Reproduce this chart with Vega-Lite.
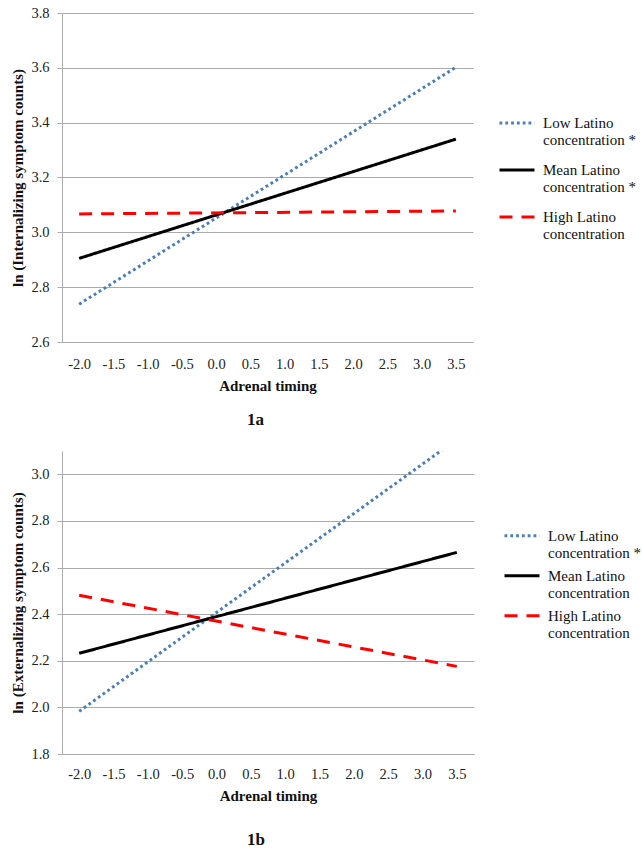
{
  "$schema": "https://vega.github.io/schema/vega-lite/v6.json",
  "background": "white",
  "padding": {"left": 10, "top": 5, "right": 0, "bottom": 0},
  "spacing": 23,
  "config": {
    "view": {"stroke": null},
    "font": "Liberation Serif, DejaVu Serif, serif",
    "axis": {"labelFont": "Liberation Serif, DejaVu Serif, serif", "titleFont": "Liberation Serif, DejaVu Serif, serif", "labelColor": "#222222", "titleColor": "#111111", "titleFontWeight": "bold", "titleFontSize": 15, "labelFontSize": 14.5},
    "legend": {"labelFont": "Liberation Serif, DejaVu Serif, serif", "labelFontSize": 15, "labelColor": "#111111"}
  },
  "resolve": {"scale": {"color": "independent", "strokeDash": "independent"}, "legend": {"color": "independent", "strokeDash": "independent"}},
  "vconcat": [
    {
      "width": 411,
      "height": 329,
      "title": {"text": "1a", "orient": "bottom", "anchor": "middle", "fontSize": 17, "fontWeight": "bold", "font": "Liberation Serif, DejaVu Serif, serif", "offset": 19, "dx": -12, "color": "#111111"},
      "data": {"values": [
        {"series": "Low Latino|concentration *", "timing": -2.0, "value": 2.738},
        {"series": "Low Latino|concentration *", "timing": 3.5, "value": 3.602},
        {"series": "Mean Latino|concentration *", "timing": -2.0, "value": 2.905},
        {"series": "Mean Latino|concentration *", "timing": 3.5, "value": 3.340},
        {"series": "High Latino|concentration", "timing": -2.0, "value": 3.067},
        {"series": "High Latino|concentration", "timing": 3.5, "value": 3.078}
      ]},
      "mark": {"type": "line", "strokeWidth": 3, "clip": true},
      "encoding": {
        "x": {"field": "timing", "type": "quantitative", "scale": {"domain": [-2.25, 3.75], "nice": false, "zero": false},
          "axis": {"title": "Adrenal timing", "values": [-2, -1.5, -1, -0.5, 0, 0.5, 1, 1.5, 2, 2.5, 3, 3.5], "labelExpr": "replace(format(datum.value, '.1f'), '\u2212', '-')", "grid": false, "ticks": false, "tickSize": 0, "domainColor": "#ABABAB", "labelPadding": 15, "titlePadding": 7.5}},
        "y": {"field": "value", "type": "quantitative", "scale": {"domain": [2.6, 3.8], "nice": false, "zero": false},
          "axis": {"title": "ln (Internalizing symptom counts)", "values": [2.6, 2.8, 3.0, 3.2, 3.4, 3.6, 3.8], "format": ".1f", "gridColor": "#ABABAB", "domainColor": "#ABABAB", "tickColor": "#ABABAB", "tickSize": 5, "labelPadding": 8, "titlePadding": 5}},
        "color": {"field": "series", "type": "nominal", "scale": {"domain": ["Low Latino|concentration *", "Mean Latino|concentration *", "High Latino|concentration"], "range": ["#4A7EBB", "#000000", "#FF0000"]},
          "legend": {"title": null, "orient": "none", "legendX": 436, "legendY": 95.5, "symbolType": "stroke", "symbolSize": 1225, "symbolStrokeWidth": 3, "labelOffset": 7, "rowPadding": 7, "clipHeight": 29, "labelLimit": 200, "labelExpr": "split(datum.label, '|')"}},
        "strokeDash": {"field": "series", "type": "nominal", "scale": {"domain": ["Low Latino|concentration *", "Mean Latino|concentration *", "High Latino|concentration"], "range": [[2.8, 3], [1, 0], [13, 9]]},
          "legend": {"title": null, "orient": "none", "legendX": 436, "legendY": 95.5, "symbolType": "stroke", "symbolSize": 1225, "symbolStrokeWidth": 3, "labelOffset": 7, "rowPadding": 7, "clipHeight": 29, "labelLimit": 200, "labelExpr": "split(datum.label, '|')"}}
      }
    },
    {
      "width": 412,
      "height": 303,
      "title": {"text": "1b", "orient": "bottom", "anchor": "middle", "fontSize": 17, "fontWeight": "bold", "font": "Liberation Serif, DejaVu Serif, serif", "offset": 28, "dx": -12, "color": "#111111"},
      "data": {"values": [
        {"series": "Low Latino|concentration *", "timing": -2.0, "value": 1.983},
        {"series": "Low Latino|concentration *", "timing": 3.5, "value": 3.150},
        {"series": "Mean Latino|concentration", "timing": -2.0, "value": 2.232},
        {"series": "Mean Latino|concentration", "timing": 3.5, "value": 2.665},
        {"series": "High Latino|concentration", "timing": -2.0, "value": 2.481},
        {"series": "High Latino|concentration", "timing": 3.5, "value": 2.176}
      ]},
      "mark": {"type": "line", "strokeWidth": 3, "clip": true},
      "encoding": {
        "x": {"field": "timing", "type": "quantitative", "scale": {"domain": [-2.25, 3.75], "nice": false, "zero": false},
          "axis": {"title": "Adrenal timing", "values": [-2, -1.5, -1, -0.5, 0, 0.5, 1, 1.5, 2, 2.5, 3, 3.5], "labelExpr": "replace(format(datum.value, '.1f'), '\u2212', '-')", "grid": false, "ticks": false, "tickSize": 0, "domainColor": "#ABABAB", "labelPadding": 13, "titlePadding": 8}},
        "y": {"field": "value", "type": "quantitative", "scale": {"domain": [1.8, 3.1], "nice": false, "zero": false},
          "axis": {"title": "ln (Externalizing symptom counts)", "values": [1.8, 2.0, 2.2, 2.4, 2.6, 2.8, 3.0], "format": ".1f", "gridColor": "#ABABAB", "domainColor": "#ABABAB", "tickColor": "#ABABAB", "tickSize": 5, "labelPadding": 8, "titlePadding": 5}},
        "color": {"field": "series", "type": "nominal", "scale": {"domain": ["Low Latino|concentration *", "Mean Latino|concentration", "High Latino|concentration"], "range": ["#4A7EBB", "#000000", "#FF0000"]},
          "legend": {"title": null, "orient": "none", "legendX": 441, "legendY": 70.25, "symbolType": "stroke", "symbolSize": 1225, "symbolStrokeWidth": 3, "labelOffset": 7, "rowPadding": 0, "clipHeight": 29, "labelLimit": 200, "labelExpr": "split(datum.label, '|')"}},
        "strokeDash": {"field": "series", "type": "nominal", "scale": {"domain": ["Low Latino|concentration *", "Mean Latino|concentration", "High Latino|concentration"], "range": [[2.8, 3], [1, 0], [13, 9]]},
          "legend": {"title": null, "orient": "none", "legendX": 441, "legendY": 70.25, "symbolType": "stroke", "symbolSize": 1225, "symbolStrokeWidth": 3, "labelOffset": 7, "rowPadding": 0, "clipHeight": 29, "labelLimit": 200, "labelExpr": "split(datum.label, '|')"}}
      }
    }
  ]
}
